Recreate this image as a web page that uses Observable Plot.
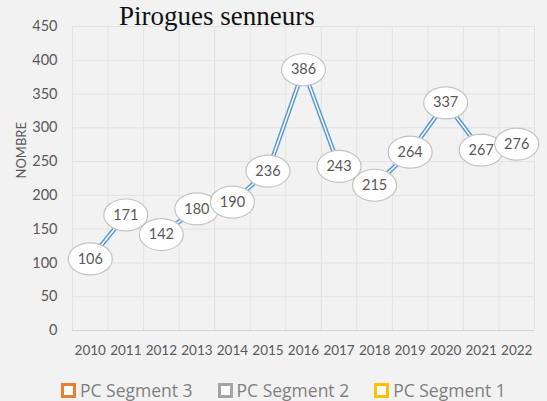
<!DOCTYPE html>
<html>
<head>
<meta charset="utf-8">
<script src="https://cdn.jsdelivr.net/npm/d3@7"></script>
<script src="https://cdn.jsdelivr.net/npm/@observablehq/plot@0.6"></script>
<style>
  html, body { margin: 0; padding: 0; background: #f2f2f2; }
  #wrap { position: relative; width: 547px; height: 401px; overflow: hidden; background: #f2f2f2; }
  #title { position: absolute; left: 119px; top: 1px; font-family: "Liberation Serif", serif; font-size: 27px; color: #111; white-space: nowrap; }
  #legend { position: absolute; left: 61px; top: 381px; height: 18px; line-height: 18px; display: flex; align-items: center; font-family: "Open Sans", sans-serif; font-size: 17.5px; color: #7f7f7f; }
  .item { display: flex; align-items: center; margin-right: 25px; }
  .sw { width: 9px; height: 9px; border: 3px solid; background: #fff; margin-right: 4px; }
</style>
</head>
<body>
<div id="wrap">
  <div id="chart"></div>
  <div id="title">Pirogues senneurs</div>
  <div id="legend"></div>
</div>
<script>
const years = [2010, 2011, 2012, 2013, 2014, 2015, 2016, 2017, 2018, 2019, 2020, 2021, 2022];
const values = [106, 171, 142, 180, 190, 236, 386, 243, 215, 264, 337, 267, 276];
const yTicks = [0, 50, 100, 150, 200, 250, 300, 350, 400, 450];
const yLabel = "NOMBRE";
const legendLabels = ["PC Segment 3", "PC Segment 2", "PC Segment 1"];
const legendColors = ["#ed7d31", "#a5a5a5", "#ffc000"];

const data = years.map((year, i) => ({year, value: values[i]}));
const edges = years.map(y => y - 0.5).concat([years[years.length - 1] + 0.5]);

const ellipse = {
  draw(ctx) {
    const rx = 22, ry = 16, k = 0.5523;
    ctx.moveTo(rx, 0);
    ctx.bezierCurveTo(rx, ry * k, rx * k, ry, 0, ry);
    ctx.bezierCurveTo(-rx * k, ry, -rx, ry * k, -rx, 0);
    ctx.bezierCurveTo(-rx, -ry * k, -rx * k, -ry, 0, -ry);
    ctx.bezierCurveTo(rx * k, -ry, rx, -ry * k, rx, 0);
    ctx.closePath();
  }
};

const chart = Plot.plot({
  width: 547,
  height: 365,
  marginTop: 26,
  marginBottom: 35,
  marginLeft: 72,
  marginRight: 13,
  style: {background: "#f2f2f2", fontFamily: "Lato, sans-serif", color: "#595959"},
  x: {domain: [edges[0], edges[edges.length - 1]]},
  y: {domain: [0, 450]},
  marks: [
    Plot.ruleY(yTicks, {stroke: "#e2e2e2"}),
    Plot.ruleX(edges, {stroke: "#e2e2e2"}),
    Plot.ruleY([0], {stroke: "#d4d4d4"}),
    Plot.axisX(years, {tickSize: 0, tickPadding: 15, tickFormat: d => String(d), fontSize: 13.5, label: null}),
    Plot.axisY(yTicks, {tickSize: 0, tickPadding: 15, fontSize: 14.5, label: null}),
    Plot.text([yLabel], {frameAnchor: "left", dx: -51, rotate: -90, fontSize: 13, fill: "#595959"}),
    Plot.line(data, {x: "year", y: "value", stroke: "#5b9bd5", strokeWidth: 4.5}),
    Plot.line(data, {x: "year", y: "value", stroke: "#ffffff", strokeWidth: 1.5}),
    Plot.dot(data, {x: "year", y: "value", symbol: ellipse, fill: "#ffffff", stroke: "#c4c4c4", strokeWidth: 1.2}),
    Plot.text(data, {x: "year", y: "value", text: d => String(d.value), fill: "#595959", fontSize: 14.5})
  ]
});
document.getElementById("chart").appendChild(chart);

const legend = document.getElementById("legend");
legendLabels.forEach((lab, i) => {
  const it = document.createElement("div");
  it.className = "item";
  const sw = document.createElement("span");
  sw.className = "sw";
  sw.style.borderColor = legendColors[i];
  const t = document.createElement("span");
  t.textContent = lab;
  it.appendChild(sw);
  it.appendChild(t);
  legend.appendChild(it);
});
</script>
</body>
</html>
